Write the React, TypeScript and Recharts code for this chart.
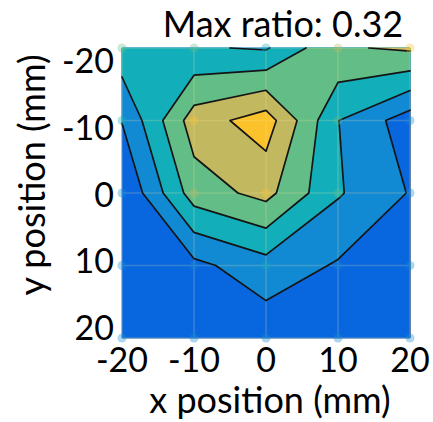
import React from "react";
import { Cell, Customized, ReferenceLine, Scatter, ScatterChart, XAxis, YAxis } from "recharts";

const FONT = "Lato, 'Open Sans', sans-serif";

// measurement grid (mm)
const xPositions = [-20, -10, 0, 10, 20];
const yPositions = [-20, -10, 0, 10, 20];

// ratio at each grid point, one row per y position, columns follow xPositions
const rowYm20 = [0.132, 0.105, 0.095, 0.194, 0.208];
const rowYm10 = [0.052, 0.225, 0.275, 0.101, 0.024];
const rowY0 = [0.0, 0.175, 0.216, 0.105, 0.047];
const rowY10 = [0.01, 0.037, 0.08, 0.045, 0.03];
const rowY20 = [0.008, 0.01, 0.018, 0.012, 0.01];

const levels = [0.05, 0.1, 0.15, 0.2, 0.25];
const bandColors = ["#0867DE", "#1189D3", "#12AEBA", "#63BD87", "#C1B85F", "#FCC22C"];
const ticks = [-20, -10, 0, 10, 20];

const grid = [rowYm20, rowYm10, rowY0, rowY10, rowY20];

type Pt = { x: number; y: number };
type Corner = Pt & { v: number };

function corners(i: number, j: number): Corner[] {
  return [
    { x: xPositions[i], y: yPositions[j], v: grid[j][i] },
    { x: xPositions[i + 1], y: yPositions[j], v: grid[j][i + 1] },
    { x: xPositions[i + 1], y: yPositions[j + 1], v: grid[j + 1][i + 1] },
    { x: xPositions[i], y: yPositions[j + 1], v: grid[j + 1][i] },
  ];
}

function crossing(a: Corner, b: Corner, level: number): Pt {
  const t = (level - a.v) / (b.v - a.v);
  return { x: a.x + t * (b.x - a.x), y: a.y + t * (b.y - a.y) };
}

// marching squares on one cell for one level
function cellInfo(i: number, j: number, level: number) {
  const c = corners(i, j);
  const hi = c.map((p) => p.v >= level);
  const edge = [0, 1, 2, 3].map((k) =>
    hi[k] !== hi[(k + 1) % 4] ? crossing(c[k], c[(k + 1) % 4], level) : null
  );
  const n = edge.filter(Boolean).length;
  const center = (c[0].v + c[1].v + c[2].v + c[3].v) / 4;
  return { c, hi, edge, n, center };
}

function cellRegions(i: number, j: number, level: number): Pt[][] {
  const { c, hi, edge, n, center } = cellInfo(i, j, level);
  if (n === 4 && center < level) {
    return [0, 1, 2, 3]
      .filter((k) => hi[k])
      .map((k) => [edge[(k + 3) % 4]!, { x: c[k].x, y: c[k].y }, edge[k]!]);
  }
  const poly: Pt[] = [];
  for (let k = 0; k < 4; k++) {
    if (hi[k]) poly.push({ x: c[k].x, y: c[k].y });
    if (edge[k]) poly.push(edge[k]!);
  }
  return poly.length >= 3 ? [poly] : [];
}

function cellSegments(i: number, j: number, level: number): Pt[][] {
  const { hi, edge, n, center } = cellInfo(i, j, level);
  if (n === 2) return [edge.filter(Boolean) as Pt[]];
  if (n === 4) {
    const isolatedHigh = center < level;
    return [0, 1, 2, 3]
      .filter((k) => hi[k] === isolatedHigh)
      .map((k) => [edge[(k + 3) % 4]!, edge[k]!]);
  }
  return [];
}

const cells: [number, number][] = [];
for (let j = 0; j < 4; j++) for (let i = 0; i < 4; i++) cells.push([i, j]);

const fills = [-Infinity, ...levels].map((level, idx) => {
  const polys = cells.flatMap(([i, j]) => cellRegions(i, j, level));
  return { color: bandColors[idx], sizes: polys.map((p) => p.length), points: polys.flat() };
});

const contourSegs = levels.flatMap((level) => cells.flatMap(([i, j]) => cellSegments(i, j, level)));
const contourPoints = contourSegs.flat();

const meshSegs: Pt[][] = ticks.flatMap((t) => [
  [{ x: t, y: -20 }, { x: t, y: 20 }],
  [{ x: -20, y: t }, { x: 20, y: t }],
]);
const meshPoints = meshSegs.flat();

const nodes = yPositions.flatMap((y, j) => xPositions.map((x, i) => ({ x, y, v: grid[j][i] })));
const bandOf = (v: number) => levels.filter((l) => v >= l).length;

const NoShape = () => <g />;

const polygonLine = (sizes: number[], color: string) => (props: any) => {
  const pts: Pt[] = props.points || [];
  let k = 0;
  let d = "";
  sizes.forEach((n) => {
    const seg = pts.slice(k, k + n);
    k += n;
    d += "M" + seg.map((p) => `${p.x},${p.y}`).join("L") + "Z";
  });
  return <path d={d} fill={color} stroke={color} strokeWidth={0.8} strokeLinejoin="round" />;
};

const segmentLine = (stroke: string, width: number) => (props: any) => {
  const pts: Pt[] = props.points || [];
  let d = "";
  for (let k = 0; k + 1 < pts.length; k += 2) {
    d += `M${pts[k].x},${pts[k].y}L${pts[k + 1].x},${pts[k + 1].y}`;
  }
  return <path d={d} fill="none" stroke={stroke} strokeWidth={width} strokeLinecap="round" />;
};

function YTick(props: any) {
  const { x, y, payload } = props;
  const mid = 48 + 290 / 2;
  return (
    <text
      x={x}
      y={mid + (y - mid) * 0.92}
      textAnchor="end"
      dominantBaseline="central"
      fontSize={34}
      fontFamily={FONT}
      fill="#000"
    >
      {payload.value}
    </text>
  );
}

function Labels() {
  return (
    <g fontFamily={FONT} fill="#000">
      <text x={283} y={23} textAnchor="middle" dominantBaseline="central" fontSize={36}>
        Max ratio: 0.32
      </text>
      <text
        transform="translate(31,175) rotate(-90)"
        textAnchor="middle"
        dominantBaseline="central"
        fontSize={36}
      >
        y position (mm)
      </text>
      <text x={270} y={399} textAnchor="middle" dominantBaseline="central" fontSize={36}>
        x position (mm)
      </text>
    </g>
  );
}

export default function App() {
  return (
    <div style={{ position: "absolute", left: 0, top: 0, background: "#fff" }}>
      <ScatterChart width={433} height={422} margin={{ top: 48, right: 23, bottom: 0, left: 0 }}>
        <XAxis
          type="number"
          dataKey="x"
          domain={[-20, 20]}
          ticks={ticks}
          interval={0}
          height={84}
          tickLine={false}
          axisLine={{ stroke: "#888" }}
          tick={{ fontSize: 34, fill: "#000", fontFamily: FONT, dy: 2 }}
        />
        <YAxis
          type="number"
          dataKey="y"
          domain={[-20, 20]}
          reversed
          ticks={ticks}
          interval={0}
          width={122}
          tickLine={false}
          axisLine={{ stroke: "#ddd" }}
          tick={(p: any) => <YTick {...p} />}
        />
        {fills.map((f, idx) => (
          <Scatter
            key={`fill-${idx}`}
            data={f.points}
            shape={NoShape}
            line={polygonLine(f.sizes, f.color)}
            isAnimationActive={false}
          />
        ))}
        <Scatter
          data={meshPoints}
          shape={NoShape}
          line={segmentLine("rgba(255,236,160,0.2)", 1.6)}
          isAnimationActive={false}
        />
        <Scatter
          data={contourPoints}
          shape={NoShape}
          line={segmentLine("#141414", 1.7)}
          isAnimationActive={false}
        />
        <Scatter data={nodes} isAnimationActive={false}>
          {nodes.map((n, i) => (
            <Cell key={i} fill={bandColors[Math.min(bandOf(n.v) + 1, 5)]} fillOpacity={0.35} />
          ))}
        </Scatter>
        <ReferenceLine x={20} stroke="#444" strokeWidth={1.5} />
        <Customized component={Labels} />
      </ScatterChart>
    </div>
  );
}
